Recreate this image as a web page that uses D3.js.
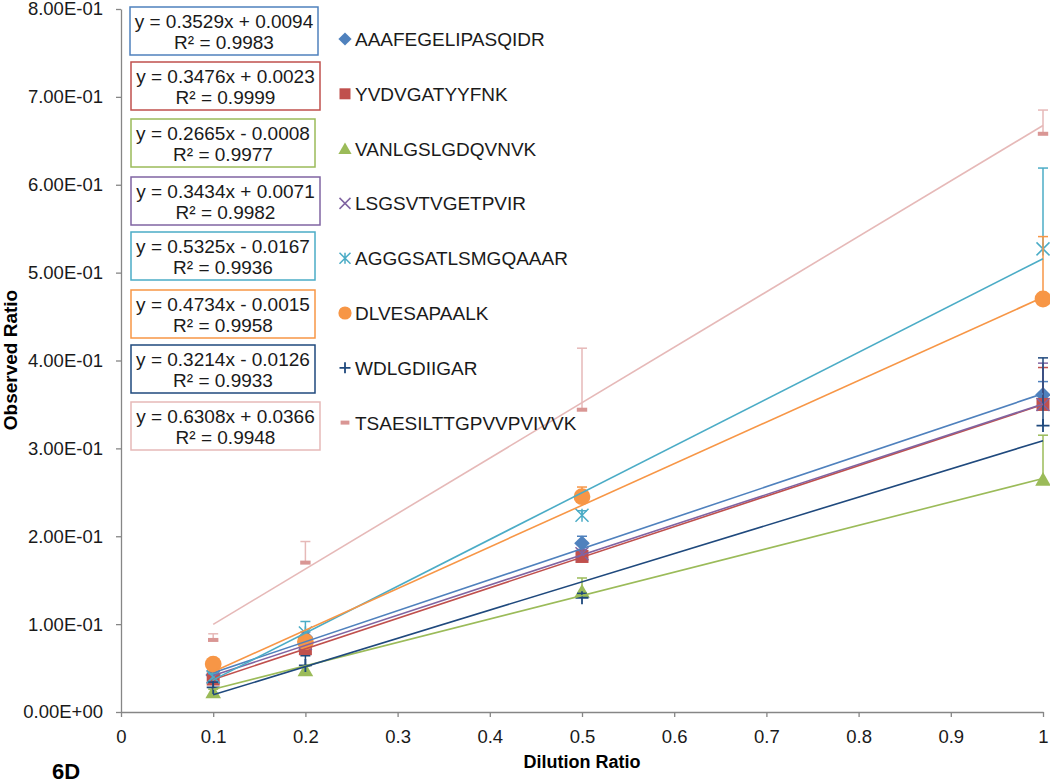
<!DOCTYPE html>
<html><head><meta charset="utf-8">
<script src="https://cdn.jsdelivr.net/npm/d3@7/dist/d3.min.js"></script>
<style>body{margin:0;background:#fff}svg{display:block;font-family:"Liberation Sans",Arial,sans-serif}</style>
</head><body><svg id="c" width="1050" height="783"></svg>
<script>
const xValues = [0.1, 0.2, 0.5, 1];
const seriesNames = ["AAAFEGELIPASQIDR","YVDVGATYYFNK","VANLGSLGDQVNVK","LSGSVTVGETPVIR","AGGGSATLSMGQAAAR","DLVESAPAALK","WDLGDIIGAR","TSAESILTTGPVVPVIVVK"];
const sAAAF = [0.042, 0.085, 0.192, 0.361];
const sYVDV = [0.0375, 0.072, 0.177, 0.35];
const sVANL = [0.023, 0.048, 0.1375, 0.265];
const sLSGS = [0.04, 0.078, 0.18, 0.35];
const sAGGG = [0.04, 0.09, 0.224, 0.527];
const sDLVE = [0.0545, 0.08, 0.245, 0.47];
const sWDLG = [0.028, 0.053, 0.13, 0.326];
const sTSAE = [0.082, 0.17, 0.344, 0.658];
const eAAAF = [0.004, 0.006, 0.008, 0.015];
const eYVDV = [0.003, 0.004, 0.004, 0.042];
const eVANL = [0.003, 0.004, 0.015, 0.05];
const eLSGS = [0.003, 0.005, 0.005, 0.047];
const eAGGG = [0.004, 0.013, 0.005, 0.092];
const eDLVE = [0.003, 0.005, 0.011, 0.071];
const eWDLG = [0.006, 0.011, 0.005, 0.077];
const eTSAE = [0.007, 0.024, 0.07, 0.027];
const slopes = [0.3529, 0.3476, 0.2665, 0.3434, 0.5325, 0.4734, 0.3214, 0.6308];
const intercepts = [0.0094, 0.0023, -0.0008, 0.0071, -0.0167, -0.0015, -0.0126, 0.0366];
const r2 = ["0.9983","0.9999","0.9977","0.9982","0.9936","0.9958","0.9933","0.9948"];
const xTicks = [0,0.1,0.2,0.3,0.4,0.5,0.6,0.7,0.8,0.9,1];
const xTickLabels = ["0","0.1","0.2","0.3","0.4","0.5","0.6","0.7","0.8","0.9","1"];
const yTicks = [0,0.1,0.2,0.3,0.4,0.5,0.6,0.7,0.8];
const yTickLabels = ["0.00E+00","1.00E-01","2.00E-01","3.00E-01","4.00E-01","5.00E-01","6.00E-01","7.00E-01","8.00E-01"];

const values = [sAAAF,sYVDV,sVANL,sLSGS,sAGGG,sDLVE,sWDLG,sTSAE];
const errs = [eAAAF,eYVDV,eVANL,eLSGS,eAGGG,eDLVE,eWDLG,eTSAE];
const colors = ["#4F81BD","#C0504D","#9BBB59","#8064A2","#4BACC6","#F79646","#1F497D","#D99694"];
const lineColors = ["#4F81BD","#C0504D","#9BBB59","#8064A2","#4BACC6","#F79646","#1F497D","#E6B9B8"];
const shapes = ["diamond","square","triangle","x","star","circle","plus","dash"];

const svg = d3.select("#c");
const x = d3.scaleLinear().domain([0,1]).range([121,1043]);
const y = d3.scaleLinear().domain([0,0.8]).range([712,9]);
const axisColor = "#868686";

const yAxis = svg.append("g").attr("transform","translate(121,0)")
  .call(d3.axisLeft(y).tickValues(yTicks).tickSize(5).tickFormat((d,i)=>yTickLabels[i]).tickSizeOuter(0));
yAxis.select(".domain").attr("stroke",axisColor).attr("stroke-width",1.3);
yAxis.selectAll(".tick line").attr("stroke",axisColor).attr("stroke-width",1.3);
yAxis.selectAll(".tick text").attr("font-size","18.5px").attr("fill","#1a1a1a").attr("x",-18).attr("font-family","Liberation Sans, Arial, sans-serif");

const xAxis = svg.append("g").attr("transform","translate(0,712)")
  .call(d3.axisBottom(x).tickValues(xTicks).tickSize(5).tickFormat((d,i)=>xTickLabels[i]).tickSizeOuter(0));
xAxis.select(".domain").attr("stroke",axisColor).attr("stroke-width",1.3);
xAxis.selectAll(".tick line").attr("stroke",axisColor).attr("stroke-width",1.3);
xAxis.selectAll(".tick text").attr("font-size","18.5px").attr("fill","#1a1a1a").attr("y",18).attr("font-family","Liberation Sans, Arial, sans-serif");

svg.append("text").attr("transform","translate(17,360) rotate(-90)").attr("text-anchor","middle")
  .attr("font-weight","bold").attr("font-size","19px").text("Observed Ratio");
svg.append("text").attr("x",582).attr("y",768).attr("text-anchor","middle")
  .attr("font-weight","bold").attr("font-size","18px").text("Dilution Ratio");
svg.append("text").attr("x",52).attr("y",779).attr("font-weight","bold").attr("font-size","22px").text("6D");

function marker(g, shape, color, size){
  const s = size;
  if(shape==="diamond") g.append("path").attr("d",`M0,${-s*0.6}L${s*0.6},0L0,${s*0.6}L${-s*0.6},0Z`).attr("fill",color);
  else if(shape==="square") g.append("rect").attr("x",-s/2).attr("y",-s/2).attr("width",s).attr("height",s).attr("fill",color);
  else if(shape==="triangle") g.append("path").attr("d",`M0,${-s*0.55}L${s*0.6},${s*0.5}L${-s*0.6},${s*0.5}Z`).attr("fill",color);
  else if(shape==="circle") g.append("circle").attr("r",s*0.6).attr("fill",color);
  else if(shape==="x") g.append("path").attr("d",`M${-s/2},${-s/2}L${s/2},${s/2}M${-s/2},${s/2}L${s/2},${-s/2}`).attr("stroke",color).attr("stroke-width",1.5).attr("fill","none");
  else if(shape==="star") g.append("path").attr("d",`M${-s/2},${-s/2}L${s/2},${s/2}M${-s/2},${s/2}L${s/2},${-s/2}M0,${-s/2}L0,${s/2}`).attr("stroke",color).attr("stroke-width",1.5).attr("fill","none");
  else if(shape==="plus") g.append("path").attr("d",`M${-s/2},0L${s/2},0M0,${-s/2}L0,${s/2}`).attr("stroke",color).attr("stroke-width",1.8).attr("fill","none");
  else if(shape==="dash") g.append("rect").attr("x",-s*0.4).attr("y",-2).attr("width",s*0.8).attr("height",4).attr("fill",color);
}

const plot = svg.append("g");
values.forEach((vals,i)=>{
  const g = plot.append("g");
  vals.forEach((v,j)=>{
    const cx = x(xValues[j]), top = y(v+errs[i][j]);
    g.append("line").attr("x1",cx).attr("x2",cx).attr("y1",y(v)).attr("y2",top).attr("stroke",lineColors[i]).attr("stroke-width",1.5);
    g.append("line").attr("x1",cx-5).attr("x2",cx+5).attr("y1",top).attr("y2",top).attr("stroke",lineColors[i]).attr("stroke-width",1.5);
  });
  vals.forEach((v,j)=>{
    const m = g.append("g").attr("transform",`translate(${x(xValues[j])},${y(v)})`);
    marker(m, shapes[i], colors[i], shapes[i]==="circle"?14:13);
  });
});
slopes.forEach((s,i)=>{
  plot.append("line").attr("x1",x(0.1)).attr("y1",y(s*0.1+intercepts[i]))
    .attr("x2",x(1)).attr("y2",y(s*1+intercepts[i]))
    .attr("stroke",lineColors[i]).attr("stroke-width",1.6);
});

const boxY = [7,62,119,177,232,290,345,402];
const boxX = [130,131,131,131,131,131,131,131];
const boxW = [188,189,184,189,184,184,184,189];
slopes.forEach((s,i)=>{
  const g = svg.append("g").attr("transform",`translate(${boxX[i]},${boxY[i]})`);
  g.append("rect").attr("width",boxW[i]).attr("height",48).attr("fill","#fff").attr("stroke",lineColors[i]).attr("stroke-width",1.5);
  const b = intercepts[i];
  const eq = `y = ${s.toFixed(4)}x ${b<0?"-":"+"} ${Math.abs(b).toFixed(4)}`;
  g.append("text").attr("x",boxW[i]/2).attr("y",21).attr("text-anchor","middle").attr("font-size","19px").attr("fill","#1a1a1a").text(eq);
  g.append("text").attr("x",boxW[i]/2).attr("y",42).attr("text-anchor","middle").attr("font-size","19px").attr("fill","#1a1a1a").text(`R² = ${r2[i]}`);
});

seriesNames.forEach((n,i)=>{
  const cy = 39 + i*54.8;
  const m = svg.append("g").attr("transform",`translate(345,${cy})`);
  marker(m, shapes[i], colors[i], 11);
  svg.append("text").attr("x",355).attr("y",cy+7).attr("font-size","19px").attr("fill","#1a1a1a").text(n);
});
</script></body></html>
